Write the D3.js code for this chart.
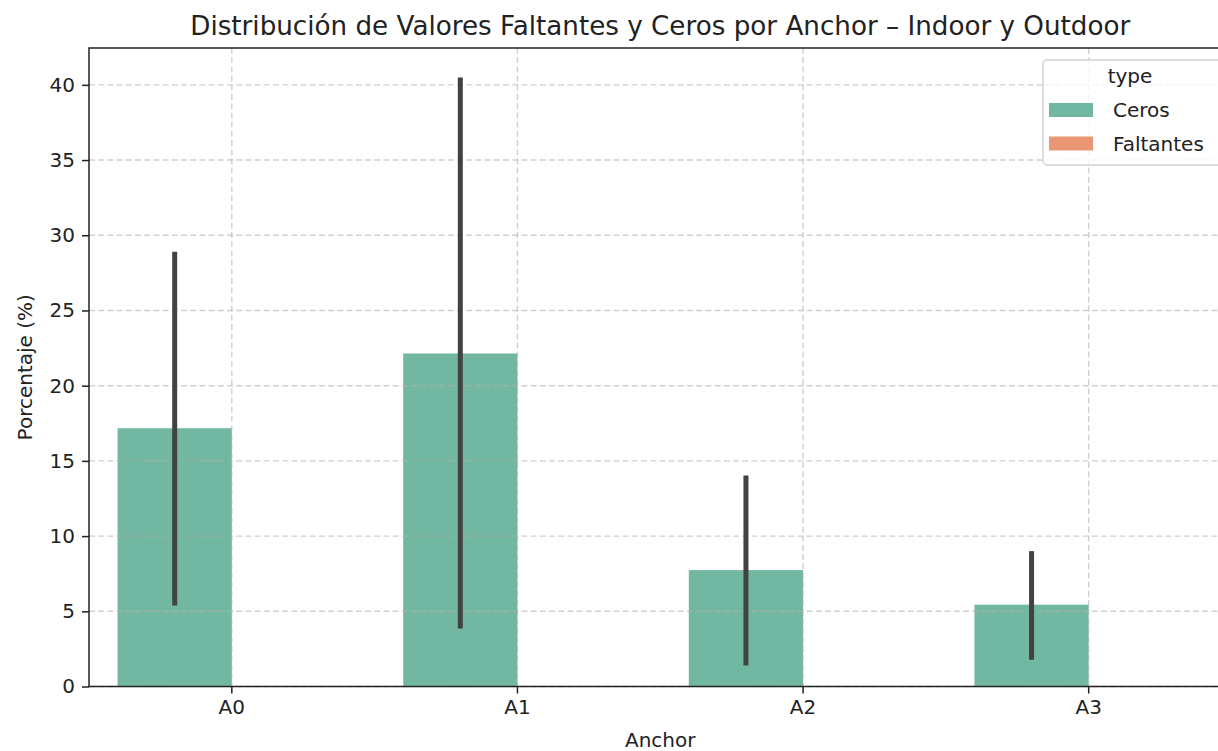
<!DOCTYPE html>
<html>
<head>
<meta charset="utf-8">
<script src="https://cdn.jsdelivr.net/npm/d3@7"></script>
<style>
  html, body { margin: 0; padding: 0; background: #fff; }
  svg { display: block; font-family: "DejaVu Sans", sans-serif; }
</style>
</head>
<body>
<svg id="chart" width="1218" height="751"></svg>
<script>
// Anchors on the x axis
const anchors = ["A0", "A1", "A2", "A3"];
// Hue levels
const types = ["Ceros", "Faltantes"];
// Mean percentage per anchor
const cerosMean = [17.17, 22.14, 7.74, 5.44];
const faltantesMean = [0, 0, 0, 0];
// Confidence interval bounds
const cerosLow = [5.39, 3.85, 1.40, 1.78];
const cerosHigh = [28.90, 40.49, 14.03, 9.00];
const faltantesLow = [0, 0, 0, 0];
const faltantesHigh = [0, 0, 0, 0];
// Y axis ticks
const yTicks = [0, 5, 10, 15, 20, 25, 30, 35, 40];

const colors = { Ceros: "#71b7a1", Faltantes: "#e99675" };

const rows = [];
anchors.forEach((a, i) => {
  rows.push({ anchor: a, type: "Ceros", mean: cerosMean[i], lo: cerosLow[i], hi: cerosHigh[i] });
  rows.push({ anchor: a, type: "Faltantes", mean: faltantesMean[i], lo: faltantesLow[i], hi: faltantesHigh[i] });
});

const svg = d3.select("#chart");
const plotL = 89, plotR = 1231.5, plotT = 48, plotB = 686.5;

const x = d3.scaleBand().domain(anchors).range([plotL, plotR]).paddingInner(0).paddingOuter(0);
const bw = x.bandwidth();
const xh = d3.scaleBand().domain(types).range([0.1 * bw, 0.9 * bw]);
const y = d3.scaleLinear().domain([0, 42.45]).range([plotB, plotT]);

// bars
svg.append("g").selectAll("rect").data(rows).join("rect")
  .attr("x", d => x(d.anchor) + xh(d.type))
  .attr("width", xh.bandwidth())
  .attr("y", d => y(d.mean))
  .attr("height", d => y(0) - y(d.mean))
  .attr("fill", d => colors[d.type]);

// grid (drawn over the bars, semi-transparent)
const grid = svg.append("g")
  .attr("stroke", "#b0b0b0").attr("stroke-opacity", 0.6)
  .attr("stroke-width", 1.4).attr("stroke-dasharray", "6,3.2");
grid.selectAll("line.h").data(yTicks).join("line").attr("class", "h")
  .attr("x1", plotL).attr("x2", plotR)
  .attr("y1", d => y(d)).attr("y2", d => y(d));
grid.selectAll("line.v").data(anchors).join("line").attr("class", "v")
  .attr("x1", d => x(d) + bw / 2).attr("x2", d => x(d) + bw / 2)
  .attr("y1", plotT).attr("y2", plotB);

// error bars
svg.append("g").selectAll("line").data(rows.filter(d => d.hi > d.lo)).join("line")
  .attr("x1", d => x(d.anchor) + xh(d.type) + xh.bandwidth() / 2)
  .attr("x2", d => x(d.anchor) + xh(d.type) + xh.bandwidth() / 2)
  .attr("y1", d => y(d.lo)).attr("y2", d => y(d.hi))
  .attr("stroke", "#424242").attr("stroke-width", 5);

// axes
const yAxis = d3.axisLeft(y).tickValues(yTicks).tickSize(7).tickPadding(7).tickFormat(d3.format("d"));
const gy = svg.append("g").attr("transform", `translate(${plotL},0)`).call(yAxis);
const xAxis = d3.axisBottom(x).tickSize(7).tickPadding(6);
const gx = svg.append("g").attr("transform", `translate(0,${plotB})`).call(xAxis);
[gx, gy].forEach(g => {
  g.select(".domain").remove();
  g.selectAll(".tick line").attr("stroke", "#222").attr("stroke-width", 1.5);
  g.selectAll(".tick text").attr("fill", "#222").style("font-size", "20px")
    .style("font-family", "DejaVu Sans, sans-serif");
});

// frame
svg.append("rect").attr("x", plotL).attr("y", plotT)
  .attr("width", plotR - plotL).attr("height", plotB - plotT)
  .attr("fill", "none").attr("stroke", "#222").attr("stroke-width", 1.5);

// title and axis labels
svg.append("text").attr("x", (plotL + plotR) / 2).attr("y", 35)
  .attr("text-anchor", "middle").attr("fill", "#222").style("font-size", "26.2px")
  .text("Distribución de Valores Faltantes y Ceros por Anchor – Indoor y Outdoor");
svg.append("text").attr("x", (plotL + plotR) / 2).attr("y", 747)
  .attr("text-anchor", "middle").attr("fill", "#222").style("font-size", "20px")
  .text("Anchor");
svg.append("text").attr("transform", `translate(32,${(plotT + plotB) / 2}) rotate(-90)`)
  .attr("text-anchor", "middle").attr("fill", "#222").style("font-size", "20px")
  .text("Porcentaje (%)");

// legend
const lg = svg.append("g").attr("transform", "translate(1043,60)");
lg.append("rect").attr("x", 0).attr("y", 0).attr("width", 200).attr("height", 105)
  .attr("rx", 4).attr("fill", "#fff").attr("fill-opacity", 0.8)
  .attr("stroke", "#d0d0d0").attr("stroke-width", 1.4);
lg.append("text").attr("x", 87).attr("y", 23).attr("text-anchor", "middle")
  .attr("fill", "#222").style("font-size", "20px").text("type");
types.forEach((t, i) => {
  lg.append("rect").attr("x", 6).attr("y", 43 + i * 33.5).attr("width", 44).attr("height", 14)
    .attr("fill", colors[t]);
  lg.append("text").attr("x", 70).attr("y", 57 + i * 33.5)
    .attr("fill", "#222").style("font-size", "20px").text(t);
});
</script>
</body>
</html>
